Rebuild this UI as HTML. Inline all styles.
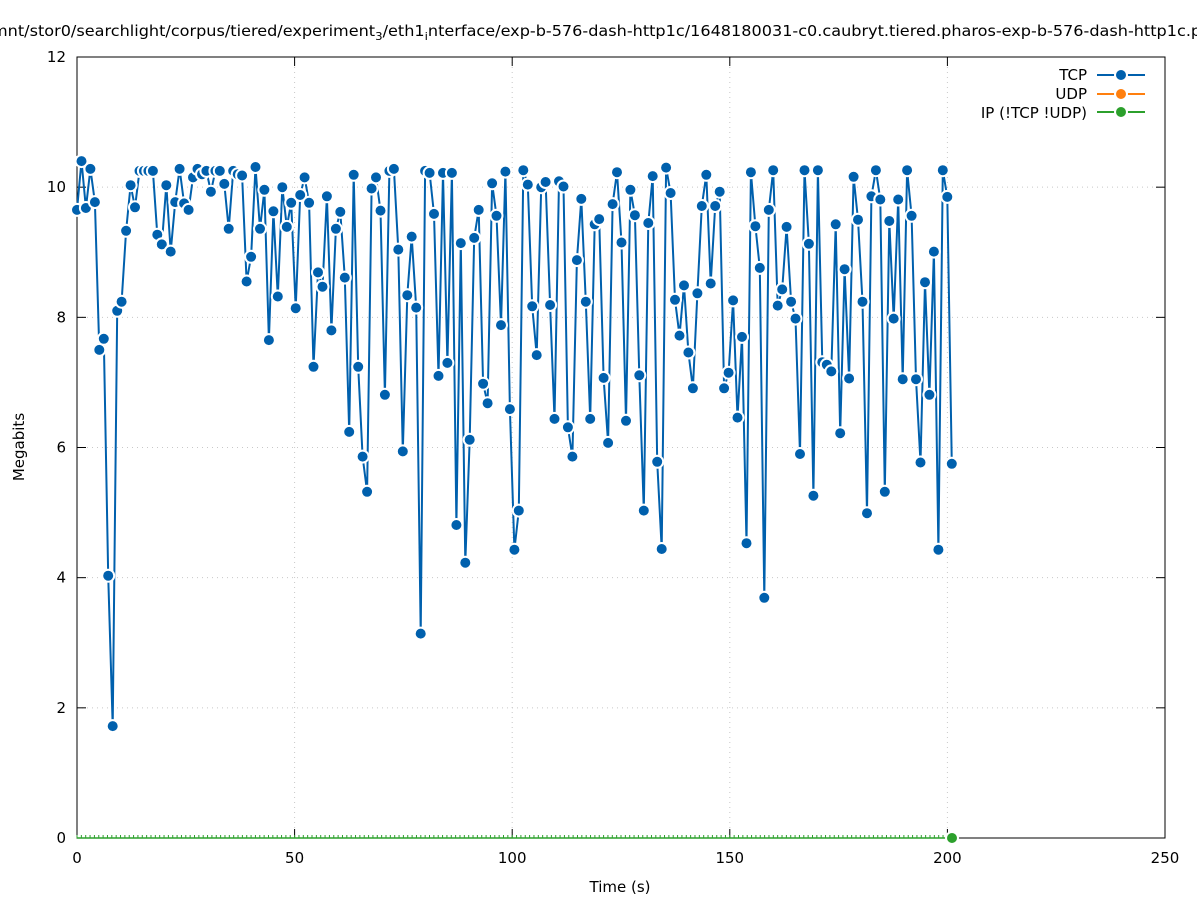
<!DOCTYPE html>
<html><head><meta charset="utf-8"><style>
body{margin:0;background:#fff}
svg{display:block;font-family:"DejaVu Sans","Liberation Sans",sans-serif}
</style></head><body>
<svg id="s" width="1197" height="900" viewBox="0 0 1197 900" xmlns="http://www.w3.org/2000/svg">
<rect width="1197" height="900" fill="#fff"/>
<g id="grid" stroke="#c8c8c8" stroke-width="1" stroke-dasharray="1,4"></g>
<g id="ticks" stroke="#000" stroke-width="1"></g>
<rect x="77" y="57" width="1088" height="781" fill="none" stroke="#000" stroke-width="1"/>
<g id="labels" font-size="15" fill="#000"></g>
<text x="-8" y="36" font-size="15" textLength="1218" lengthAdjust="spacingAndGlyphs">mnt/stor0/searchlight/corpus/tiered/experiment<tspan font-size="11" dy="4">3</tspan><tspan dy="-4">/eth1</tspan><tspan font-size="11" dy="4">i</tspan><tspan dy="-4">nterface/exp-b-576-dash-http1c/1648180031-c0.caubryt.tiered.pharos-exp-b-576-dash-http1c.pc</tspan></text>
<text x="620" y="892" font-size="15" text-anchor="middle">Time (s)</text>
<text x="24" y="447" font-size="15" text-anchor="middle" transform="rotate(-90 24 447)">Megabits</text>
<line x1="77" y1="838" x2="952" y2="838" stroke="#2ca02c" stroke-width="1.5"/>
<g id="series"></g>
<circle cx="952" cy="838" r="6" fill="#2ca02c" stroke="#fff" stroke-width="2"/>
<g font-size="15" text-anchor="end">
<text x="1087" y="80">TCP</text>
<text x="1087" y="99">UDP</text>
<text x="1087" y="118">IP (!TCP  !UDP)</text>
</g>
<line x1="1097" y1="75" x2="1145" y2="75" stroke="#0060ad" stroke-width="2"/>
<circle cx="1121" cy="75" r="6" fill="#0060ad" stroke="#fff" stroke-width="2"/>
<line x1="1097" y1="94" x2="1145" y2="94" stroke="#ff7f0e" stroke-width="2"/>
<circle cx="1121" cy="94" r="6" fill="#ff7f0e" stroke="#fff" stroke-width="2"/>
<line x1="1097" y1="112" x2="1145" y2="112" stroke="#2ca02c" stroke-width="2"/>
<circle cx="1121" cy="112" r="6" fill="#2ca02c" stroke="#fff" stroke-width="2"/>
</svg>
<script>
var NS="http://www.w3.org/2000/svg";
function el(t,a,p){var e=document.createElementNS(NS,t);for(var k in a)e.setAttribute(k,a[k]);p.appendChild(e);return e;}
var X=function(v){return 77+v*4.352;},Y=function(v){return 838-v*65.083;};
var g=document.getElementById('grid'),tk=document.getElementById('ticks'),lb=document.getElementById('labels');
for(var v=0;v<=12;v+=2){var y=Y(v);if(v>0&&v<12)el('line',{x1:77,y1:y,x2:1165,y2:y},g);
el('line',{x1:77,y1:y,x2:86,y2:y},tk);el('line',{x1:1156,y1:y,x2:1165,y2:y},tk);
var t=el('text',{x:66,y:y+5,'text-anchor':'end'},lb);t.textContent=v;}
for(var v=0;v<=250;v+=50){var x=X(v);if(v>0&&v<250)el('line',{x1:x,y1:57,x2:x,y2:838},g);
el('line',{x1:x,y1:838,x2:x,y2:829},tk);el('line',{x1:x,y1:57,x2:x,y2:66},tk);
var t=el('text',{x:x,y:863,'text-anchor':'middle'},lb);t.textContent=v;}
var gs=document.getElementById('series');
for(var i=0;i<=201;i++){el('line',{x1:X(i),y1:838,x2:X(i),y2:835,stroke:'#2ca02c','stroke-width':1},gs);}
var d=[9.65,10.4,9.68,10.28,9.77,7.5,7.67,4.03,1.72,8.1,8.24,9.33,10.03,9.69,10.25,10.25,10.25,10.25,9.27,9.12,10.03,9.01,9.77,10.28,9.75,9.65,10.15,10.28,10.2,10.25,9.93,10.25,10.25,10.05,9.36,10.25,10.2,10.18,8.55,8.93,10.31,9.36,9.96,7.65,9.63,8.32,10.0,9.39,9.76,8.14,9.88,10.15,9.76,7.24,8.69,8.47,9.86,7.8,9.36,9.62,8.61,6.24,10.19,7.24,5.86,5.32,9.98,10.15,9.64,6.81,10.25,10.28,9.04,5.94,8.34,9.24,8.15,3.14,10.25,10.22,9.59,7.1,10.22,7.3,10.22,4.81,9.14,4.23,6.12,9.22,9.65,6.98,6.68,10.06,9.56,7.88,10.24,6.59,4.43,5.03,10.26,10.04,8.17,7.42,10.0,10.08,8.19,6.44,10.09,10.01,6.31,5.86,8.88,9.82,8.24,6.44,9.43,9.51,7.07,6.07,9.74,10.23,9.15,6.41,9.96,9.57,7.11,5.03,9.45,10.17,5.78,4.44,10.3,9.91,8.27,7.72,8.49,7.46,6.91,8.37,9.71,10.19,8.52,9.71,9.93,6.91,7.15,8.26,6.46,7.7,4.53,10.23,9.4,8.76,3.69,9.65,10.26,8.18,8.43,9.39,8.24,7.98,5.9,10.26,9.13,5.26,10.26,7.31,7.27,7.17,9.43,6.22,8.74,7.06,10.16,9.5,8.24,4.99,9.86,10.26,9.81,5.32,9.48,7.98,9.81,7.05,10.26,9.56,7.05,5.77,8.54,6.81,9.01,4.43,10.26,9.85,5.75];
var n=d.length,s=gs,pts=[];
for(var i=0;i<n;i++){pts.push([X(i*201/(n-1)),Y(d[i])]);}
el('polyline',{points:pts.map(function(p){return p[0].toFixed(1)+','+p[1].toFixed(1)}).join(' '),fill:'none',stroke:'#0060ad','stroke-width':2},s);
pts.forEach(function(p){el('circle',{cx:p[0].toFixed(1),cy:p[1].toFixed(1),r:6,fill:'#0060ad',stroke:'#fff','stroke-width':2},s);});
</script>
</body></html>
